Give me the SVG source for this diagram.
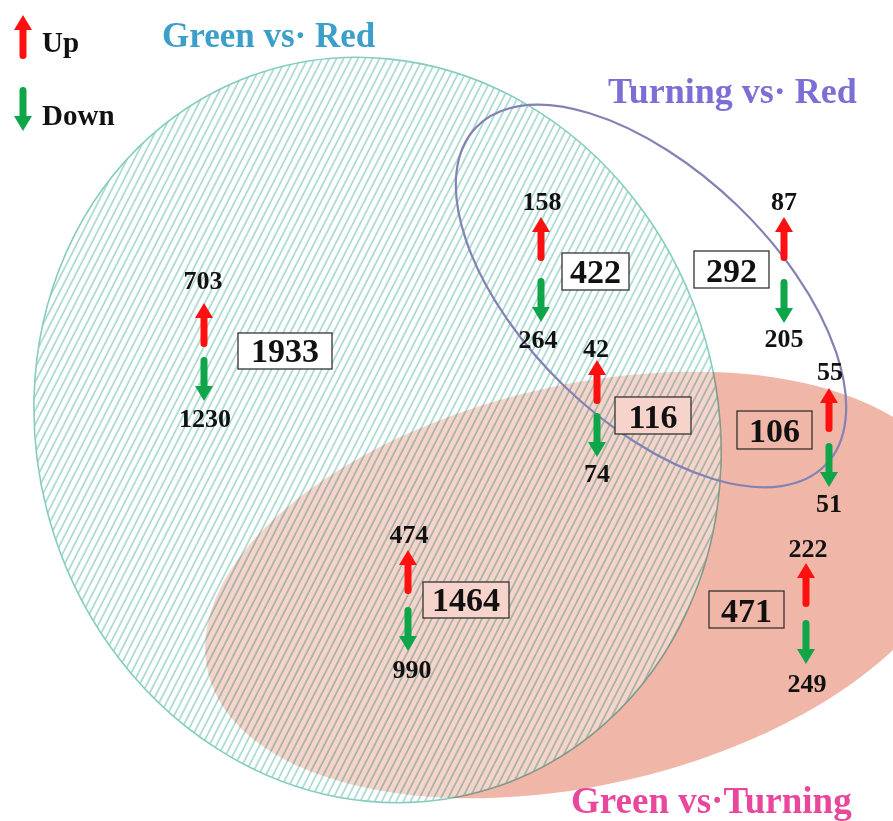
<svg xmlns="http://www.w3.org/2000/svg" xmlns:xlink="http://www.w3.org/1999/xlink" width="893" height="821" viewBox="0 0 893 821">
<style>
.t{font-family:"Liberation Serif","Times New Roman",serif;font-weight:bold}
.n{font-size:26px;fill:#111;text-anchor:middle}
.b{font-size:34px;fill:#111;text-anchor:middle}
.box{stroke:#333;stroke-width:1.3}
.up{fill:#ff1010}
.dn{fill:#0fa64a}
</style>
<defs>
<pattern id="hatch" patternUnits="userSpaceOnUse" width="6.4" height="6.4" patternTransform="rotate(45)">
<line x1="1" y1="0" x2="1" y2="6.4" stroke="#6cc0b0" stroke-width="1"/>
</pattern>
<path id="upA" d="M0,0 L9,15 L3.5,15 L3.5,40.5 A3.5,3.5 0 0 1 -3.5,40.5 L-3.5,15 L-9,15 Z"/>
<path id="dnA" d="M0,0 L-9,-15 L-3.5,-15 L-3.5,-40.5 A3.5,3.5 0 0 1 3.5,-40.5 L3.5,-15 L9,-15 Z"/>
</defs>
<rect width="893" height="821" fill="#fff"/>
<g id="sets">
<g id="set-green-vs-turning">
<ellipse cx="583" cy="585" rx="385" ry="200" transform="rotate(-13 583 585)" fill="#f0b6a8"/>
</g>
<g id="set-green-vs-red">
<ellipse cx="377.5" cy="430" rx="340" ry="376" transform="rotate(-18 377.5 430)" fill="#fff" fill-opacity="0.4"/>
<ellipse cx="377.5" cy="430" rx="340" ry="376" transform="rotate(-18 377.5 430)" fill="url(#hatch)" style="mix-blend-mode:multiply" stroke="#86cdbf" stroke-width="1.6"/>
</g>
<g id="set-turning-vs-red">
<ellipse cx="651" cy="296" rx="243" ry="125" transform="rotate(44 651 296)" fill="none" stroke="#8282b4" stroke-width="2.2"/>
</g>
</g>
<g id="titles" class="t">
<text x="162" y="47" font-size="35" fill="#3b9fca">Green vs· Red</text>
<text x="608" y="103" font-size="36" fill="#7b6fd6">Turning vs· Red</text>
<text x="571" y="813" font-size="37" fill="#e8479b">Green vs·Turning</text>
</g>
<g id="legend" class="t">
<use href="#upA" x="23" y="15" class="up"/>
<text x="42" y="52" font-size="29" fill="#111">Up</text>
<use href="#dnA" x="23" y="131" class="dn"/>
<text x="42" y="125" font-size="29" fill="#111">Down</text>
</g>
<g id="region-green-red-only" class="t">
<text class="n" x="203" y="289">703</text>
<use href="#upA" x="204" y="303" class="up"/>
<use href="#dnA" x="204" y="401" class="dn"/>
<text class="n" x="205" y="427">1230</text>
<rect class="box" x="238" y="333" width="94" height="36" fill="#fff"/>
<text class="b" x="285" y="362">1933</text>
</g>
<g id="region-gr-tr" class="t">
<text class="n" x="542" y="210">158</text>
<use href="#upA" x="541" y="217" class="up"/>
<use href="#dnA" x="541" y="322" class="dn"/>
<text class="n" x="538" y="348">264</text>
<rect class="box" x="562" y="253" width="67" height="37" fill="#fff"/>
<text class="b" x="595.5" y="283">422</text>
</g>
<g id="region-all-three" class="t">
<text class="n" x="596" y="357">42</text>
<use href="#upA" x="597" y="360" class="up"/>
<use href="#dnA" x="597" y="457" class="dn"/>
<text class="n" x="597" y="482">74</text>
<rect class="box" x="615" y="397" width="76" height="37" fill="#f6d3cb"/>
<text class="b" x="653" y="428">116</text>
</g>
<g id="region-turning-red-only" class="t">
<text class="n" x="784" y="210">87</text>
<use href="#upA" x="784" y="217" class="up"/>
<use href="#dnA" x="784" y="323" class="dn"/>
<text class="n" x="784" y="347">205</text>
<rect class="box" x="694" y="251" width="75" height="37" fill="#fff"/>
<text class="b" x="731.5" y="282">292</text>
</g>
<g id="region-tr-gt" class="t">
<text class="n" x="830" y="380">55</text>
<use href="#upA" x="829" y="388" class="up"/>
<use href="#dnA" x="829" y="487" class="dn"/>
<text class="n" x="829" y="512">51</text>
<rect class="box" x="737" y="411" width="75" height="38" fill="#f0b6a8"/>
<text class="b" x="774.5" y="442">106</text>
</g>
<g id="region-gr-gt" class="t">
<text class="n" x="409" y="543">474</text>
<use href="#upA" x="408" y="550" class="up"/>
<use href="#dnA" x="408" y="651" class="dn"/>
<text class="n" x="412" y="678">990</text>
<rect class="box" x="423" y="582" width="86" height="36" fill="#f6d3cb"/>
<text class="b" x="466" y="611">1464</text>
</g>
<g id="region-green-turning-only" class="t">
<text class="n" x="808" y="557">222</text>
<use href="#upA" x="806" y="563" class="up"/>
<use href="#dnA" x="806" y="664" class="dn"/>
<text class="n" x="807" y="692">249</text>
<rect class="box" x="709" y="591" width="75" height="37" fill="#f0b6a8"/>
<text class="b" x="746.5" y="622">471</text>
</g>
<g id="connectors"/>
</svg>
